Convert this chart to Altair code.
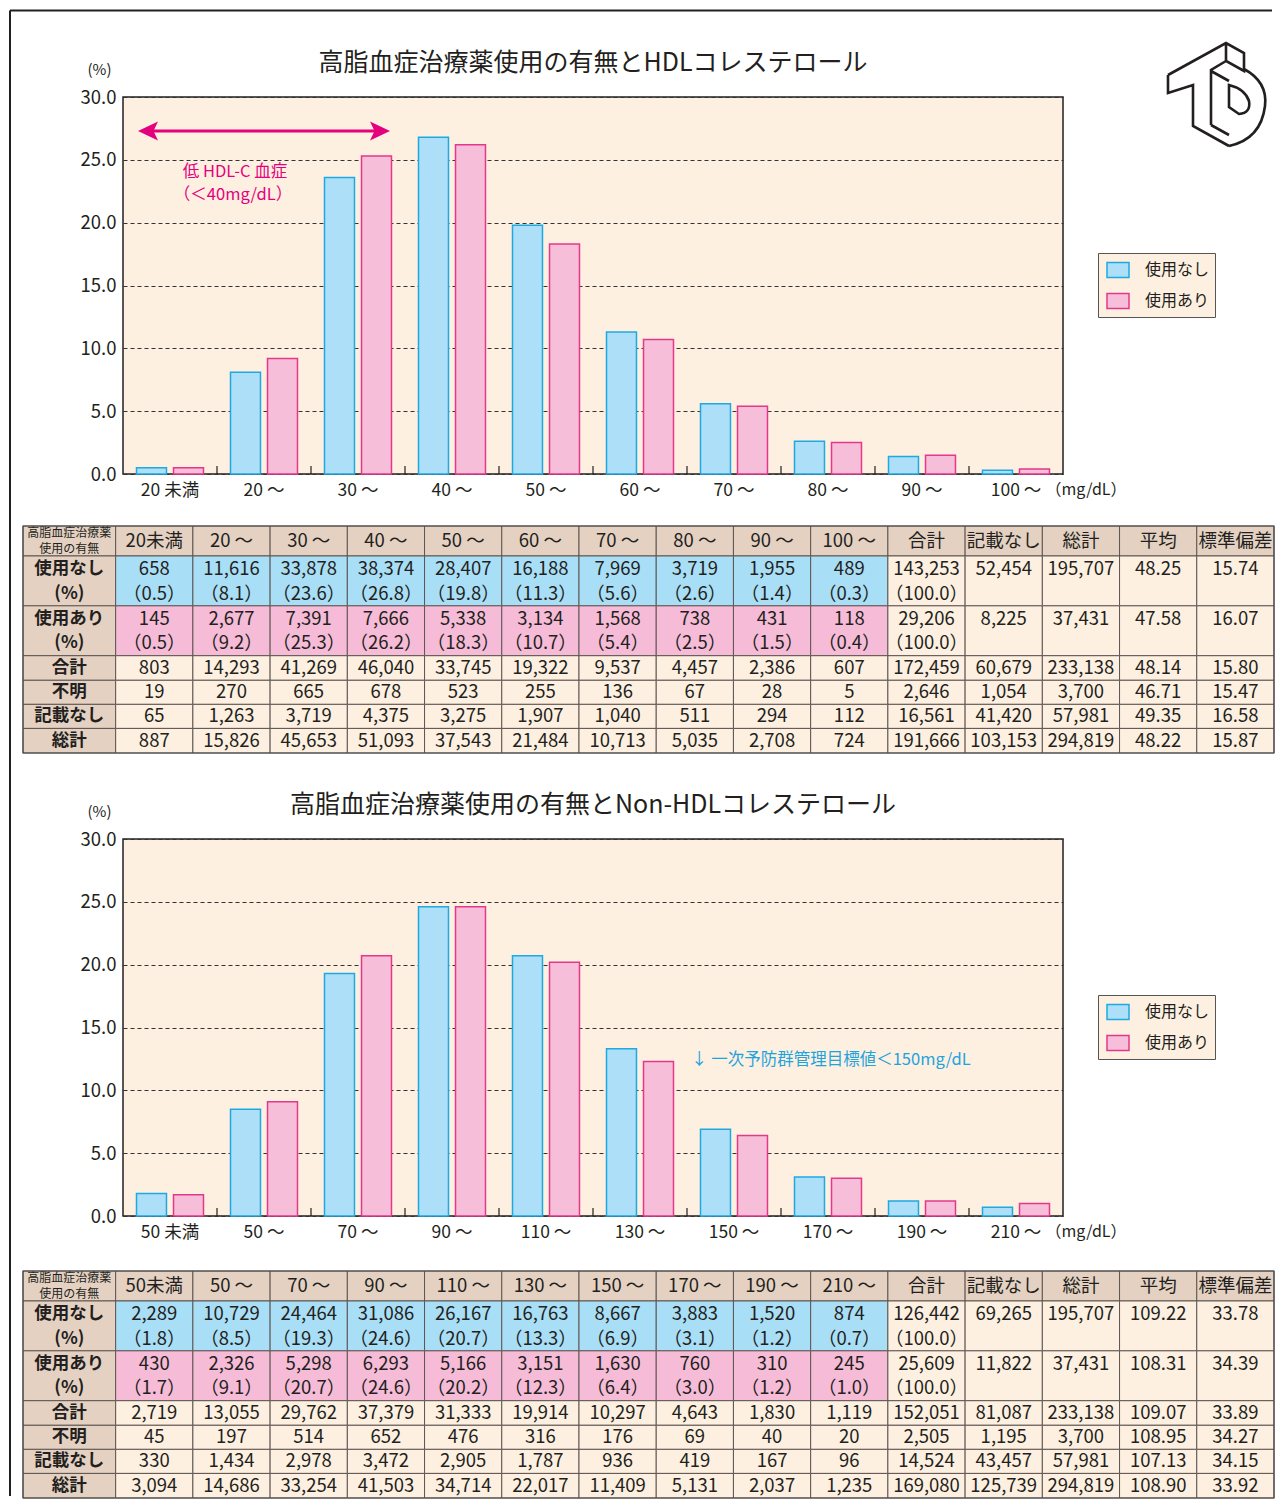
import altair as alt
import pandas as pd

FONT = "Noto Sans CJK JP"
INK = "#231f20"
PLOT_BG = "#fdf0e1"
TAN = "#e4d1c2"
CELL_BLUE = "#a9def7"
CELL_PINK = "#f6bcd7"
LINE_GRAY = "#5e5652"
BAR_FILL = ["#addff8", "#f6bed8"]
BAR_LINE = ["#1fa9e1", "#e4388c"]
ARROW_PINK = "#e5007d"
NOTE_BLUE = "#1fa3dc"
GROUPS = ["使用なし", "使用あり"]

# ---------------- HDL ----------------
HDL_TITLE = "高脂血症治療薬使用の有無とHDLコレステロール"
HDL_CATS = ["20 未満", "20 ～", "30 ～", "40 ～", "50 ～", "60 ～", "70 ～", "80 ～", "90 ～", "100 ～"]
HDL_NONE_PCT = [0.5, 8.1, 23.6, 26.8, 19.8, 11.3, 5.6, 2.6, 1.4, 0.3]
HDL_USE_PCT = [0.5, 9.2, 25.3, 26.2, 18.3, 10.7, 5.4, 2.5, 1.5, 0.4]
HDL_HEAD = ["20未満", "20 ～", "30 ～", "40 ～", "50 ～", "60 ～", "70 ～", "80 ～", "90 ～", "100 ～",
            "合計", "記載なし", "総計", "平均", "標準偏差"]
HDL_NONE_N = ["658", "11,616", "33,878", "38,374", "28,407", "16,188", "7,969", "3,719", "1,955", "489",
              "143,253", "52,454", "195,707", "48.25", "15.74"]
HDL_USE_N = ["145", "2,677", "7,391", "7,666", "5,338", "3,134", "1,568", "738", "431", "118",
             "29,206", "8,225", "37,431", "47.58", "16.07"]
HDL_TOTAL = ["803", "14,293", "41,269", "46,040", "33,745", "19,322", "9,537", "4,457", "2,386", "607",
             "172,459", "60,679", "233,138", "48.14", "15.80"]
HDL_UNKNOWN = ["19", "270", "665", "678", "523", "255", "136", "67", "28", "5",
               "2,646", "1,054", "3,700", "46.71", "15.47"]
HDL_NODATA = ["65", "1,263", "3,719", "4,375", "3,275", "1,907", "1,040", "511", "294", "112",
              "16,561", "41,420", "57,981", "49.35", "16.58"]
HDL_GRAND = ["887", "15,826", "45,653", "51,093", "37,543", "21,484", "10,713", "5,035", "2,708", "724",
             "191,666", "103,153", "294,819", "48.22", "15.87"]

# ---------------- Non-HDL ----------------
NON_TITLE = "高脂血症治療薬使用の有無とNon-HDLコレステロール"
NON_CATS = ["50 未満", "50 ～", "70 ～", "90 ～", "110 ～", "130 ～", "150 ～", "170 ～", "190 ～", "210 ～"]
NON_NONE_PCT = [1.8, 8.5, 19.3, 24.6, 20.7, 13.3, 6.9, 3.1, 1.2, 0.7]
NON_USE_PCT = [1.7, 9.1, 20.7, 24.6, 20.2, 12.3, 6.4, 3.0, 1.2, 1.0]
NON_HEAD = ["50未満", "50 ～", "70 ～", "90 ～", "110 ～", "130 ～", "150 ～", "170 ～", "190 ～", "210 ～",
            "合計", "記載なし", "総計", "平均", "標準偏差"]
NON_NONE_N = ["2,289", "10,729", "24,464", "31,086", "26,167", "16,763", "8,667", "3,883", "1,520", "874",
              "126,442", "69,265", "195,707", "109.22", "33.78"]
NON_USE_N = ["430", "2,326", "5,298", "6,293", "5,166", "3,151", "1,630", "760", "310", "245",
             "25,609", "11,822", "37,431", "108.31", "34.39"]
NON_TOTAL = ["2,719", "13,055", "29,762", "37,379", "31,333", "19,914", "10,297", "4,643", "1,830", "1,119",
             "152,051", "81,087", "233,138", "109.07", "33.89"]
NON_UNKNOWN = ["45", "197", "514", "652", "476", "316", "176", "69", "40", "20",
               "2,505", "1,195", "3,700", "108.95", "34.27"]
NON_NODATA = ["330", "1,434", "2,978", "3,472", "2,905", "1,787", "936", "419", "167", "96",
              "14,524", "43,457", "57,981", "107.13", "34.15"]
NON_GRAND = ["3,094", "14,686", "33,254", "41,503", "34,714", "22,017", "11,409", "5,131", "2,037", "1,235",
             "169,080", "125,739", "294,819", "108.90", "33.92"]

TOTAL_PCT = 100.0
CORNER = ["高脂血症治療薬", "使用の有無"]
ROW_LABELS = [["使用なし", "(%)"], ["使用あり", "(%)"], ["合計"], ["不明"], ["記載なし"], ["総計"]]

HDL_NOTE = ["低 HDL-C 血症", "（＜40mg/dL）"]
NON_NOTE = "↓ 一次予防群管理目標値＜150mg/dL"

RECT_SYMBOL = "M-1,-0.68L1,-0.68L1,0.68L-1,0.68Z"
LOGO = ("M-48,-21L10,-53L28,-43L28,-25L10,-35L10,-53 M10,-35L-5,-26L-5,29 "
        "M-48,-21L-48,-3L-23,-11L-23,30L13,50 M28,-27Q52,-14 49,10Q45,43 13,50 "
        "M13,-11L13,11L23,18Q35,17 33,5Q29,-7 13,-11Z M-5,-25L13,-15 M-5,29L13,39")

W, H = 940, 377
TABLE_RIGHT = 1151
TABLE_H = 227
GAP = 52
ONE = alt.Data(values=[{"k": 1}])


def bar_panel(cats, none_pct, use_pct, title, extra):
    df = pd.DataFrame({
        "cat": cats + cats,
        "grp": [GROUPS[0]] * len(cats) + [GROUPS[1]] * len(cats),
        "pct": none_pct + use_pct,
    })
    xs = alt.Scale(domain=cats, paddingInner=0, paddingOuter=0)
    leg = alt.Legend(title=None, orient="none", legendX=975, legendY=156, direction="vertical",
                     fillColor=PLOT_BG, strokeColor="#555555", padding=5, symbolOffset=3,
                     symbolType=RECT_SYMBOL, symbolSize=484, symbolStrokeWidth=1.5,
                     labelFontSize=16, labelOffset=15, rowPadding=8, labelColor=INK, labelFont=FONT)
    bars = alt.Chart(df).mark_bar(strokeWidth=1.5).encode(
        x=alt.X("cat:N", sort=cats, scale=xs,
                axis=alt.Axis(title="（mg/dL）", titleX=922, titleY=7, titleAlign="left",
                              titleBaseline="top", titleFontSize=16, titleFontWeight="normal",
                              titleColor=INK, labelAngle=0, labelFontSize=17.5, labelPadding=7,
                              labelColor=INK, ticks=False, domain=False, grid=False)),
        xOffset=alt.XOffset("grp:N", sort=GROUPS,
                            scale=alt.Scale(domain=GROUPS, paddingInner=0.19, paddingOuter=0.365)),
        y=alt.Y("pct:Q", scale=alt.Scale(domain=[0, 30], nice=False),
                axis=alt.Axis(title="(%)", titleAngle=0, titleX=-24, titleY=-28, titleAlign="center",
                              titleBaseline="middle", titleFontSize=15, titleFontWeight="normal",
                              titleColor=INK, values=[0, 5, 10, 15, 20, 25, 30], format=".1f",
                              labelFontSize=18.5, labelPadding=7, labelColor=INK, ticks=False,
                              domain=False, grid=True, gridDash=[4, 3], gridColor="#333333",
                              gridWidth=1)),
        fill=alt.Fill("grp:N", sort=GROUPS, scale=alt.Scale(domain=GROUPS, range=BAR_FILL), legend=leg),
        stroke=alt.Stroke("grp:N", sort=GROUPS, scale=alt.Scale(domain=GROUPS, range=BAR_LINE), legend=leg),
    )
    ticks = alt.Chart(pd.DataFrame({"cat": cats[1:]})).mark_rule(color=INK, strokeWidth=1.2).encode(
        x=alt.X("cat:N", sort=cats, scale=xs, bandPosition=0),
        y=alt.value(H), y2=alt.value(H - 8))
    title_mark = alt.Chart(ONE).mark_text(text=title, fontSize=25, color=INK, align="center",
                                          baseline="middle").encode(x=alt.value(W / 2), y=alt.value(-34))
    layers = [bars, ticks, title_mark] + extra
    return alt.layer(*layers).properties(
        width=W, height=H,
        view=alt.ViewBackground(fill=PLOT_BG, stroke=INK, strokeWidth=1.5))


ROW_H = [1.22, 2.03, 2.03, 1.0, 0.98, 0.98, 1.0]
LABEL_W = 1.2
NCOL = 15


def fmt_pct(v):
    return f"（{v:.1f}）"


def table_panel(head, none_n, none_pct, use_n, use_pct, tot, unk, nod, grand, top, view_h):
    tops = [sum(ROW_H[:i]) for i in range(len(ROW_H))]
    total_h = sum(ROW_H)
    cells, texts = [], []
    for r in range(len(ROW_H)):
        for c in range(-1, NCOL):
            if r == 0 or c == -1:
                fill = TAN
            elif r == 1 and c < 10:
                fill = CELL_BLUE
            elif r == 2 and c < 10:
                fill = CELL_PINK
            else:
                fill = PLOT_BG
            cells.append({"x1": -LABEL_W if c == -1 else c, "x2": 0 if c == -1 else c + 1,
                          "y1": tops[r], "y2": tops[r] + ROW_H[r], "fill": fill})
    texts.append({"t": CORNER[0], "x": -LABEL_W / 2, "y": 0.28, "kind": "corner"})
    texts.append({"t": CORNER[1], "x": -LABEL_W / 2, "y": 0.95, "kind": "corner"})
    for c, h in enumerate(head):
        texts.append({"t": h, "x": c + 0.5, "y": ROW_H[0] / 2, "kind": "head"})
    for i, lab in enumerate(ROW_LABELS):
        r = i + 1
        if len(lab) == 2:
            texts.append({"t": lab[0], "x": -LABEL_W / 2, "y": tops[r] + 0.53, "kind": "label"})
            texts.append({"t": lab[1], "x": -LABEL_W / 2, "y": tops[r] + 1.53, "kind": "label"})
        else:
            texts.append({"t": lab[0], "x": -LABEL_W / 2, "y": tops[r] + ROW_H[r] / 2, "kind": "label"})
    for r, counts, pcts in [(1, none_n, none_pct), (2, use_n, use_pct)]:
        for c in range(NCOL):
            texts.append({"t": counts[c], "x": c + 0.5, "y": tops[r] + 0.53, "kind": "val"})
        for c, v in enumerate(pcts):
            texts.append({"t": fmt_pct(v), "x": c + 0.5, "y": tops[r] + 1.53, "kind": "val"})
        texts.append({"t": fmt_pct(TOTAL_PCT), "x": 10.5, "y": tops[r] + 1.53, "kind": "val"})
    for r, vals in [(3, tot), (4, unk), (5, nod), (6, grand)]:
        for c in range(NCOL):
            texts.append({"t": vals[c], "x": c + 0.5, "y": tops[r] + ROW_H[r] / 2, "kind": "val"})

    xs = alt.Scale(domain=[-LABEL_W, NCOL], range=[-100, TABLE_RIGHT], nice=False, zero=False)
    ys = alt.Scale(domain=[0, total_h], range=[top, top + TABLE_H], nice=False, zero=False)
    rects = alt.Chart(pd.DataFrame(cells)).mark_rect(stroke=LINE_GRAY, strokeWidth=1).encode(
        x=alt.X("x1:Q", scale=xs, axis=None), x2="x2:Q",
        y=alt.Y("y1:Q", scale=ys, axis=None), y2="y2:Q",
        fill=alt.Fill("fill:N", scale=None))
    tdf = pd.DataFrame(texts)
    styles = {"corner": (12, "normal"), "head": (18.5, "normal"), "label": (17.5, "bold"),
              "val": (18.5, "normal")}
    layers = [rects]
    for kind, (fs, fw) in styles.items():
        layers.append(alt.Chart(tdf).transform_filter(alt.datum.kind == kind).mark_text(
            fontSize=fs, fontWeight=fw, color=INK, align="center", baseline="middle").encode(
            x=alt.X("x:Q", scale=xs, axis=None), y=alt.Y("y:Q", scale=ys, axis=None), text="t:N"))
    outline = alt.Chart(ONE).mark_rect(fillOpacity=0, stroke="#4a4a4a", strokeWidth=1.2).encode(
        x=alt.value(-100), x2=alt.value(TABLE_RIGHT), y=alt.value(top), y2=alt.value(top + TABLE_H))
    layers.append(outline)
    return alt.layer(*layers).properties(width=TABLE_RIGHT, height=view_h)


arrow_line = alt.Chart(ONE).mark_rule(color=ARROW_PINK, strokeWidth=3).encode(
    x=alt.value(22), x2=alt.value(260), y=alt.value(34))
arrow_l = alt.Chart(ONE).mark_point(shape="M-1,0L1,-0.95L0.55,0L1,0.95Z", size=400, filled=True,
                                    color=ARROW_PINK, opacity=1).encode(x=alt.value(25), y=alt.value(34))
arrow_r = alt.Chart(ONE).mark_point(shape="M1,0L-1,-0.95L-0.55,0L-1,0.95Z", size=400, filled=True,
                                    color=ARROW_PINK, opacity=1).encode(x=alt.value(257), y=alt.value(34))
note1 = alt.Chart(ONE).mark_text(text=HDL_NOTE[0], fontSize=16.5, color=ARROW_PINK, align="center",
                                 baseline="middle").encode(x=alt.value(112), y=alt.value(75))
note2 = alt.Chart(ONE).mark_text(text=HDL_NOTE[1], fontSize=16.5, color=ARROW_PINK, align="center",
                                 baseline="middle").encode(x=alt.value(110), y=alt.value(98))
top_line = alt.Chart(ONE).mark_rule(color=INK, strokeWidth=2).encode(
    x=alt.value(-113), x2=alt.value(TABLE_RIGHT - 2), y=alt.value(-86.5))
left_line = alt.Chart(ONE).mark_rule(color=INK, strokeWidth=2).encode(
    x=alt.value(-113), y=alt.value(-86.5), y2=alt.value(1399))
logo = alt.Chart(ONE).mark_point(shape=LOGO, size=4, filled=False, stroke=INK, strokeWidth=2.6,
                                 opacity=1).encode(x=alt.value(1093), y=alt.value(-1))
note3 = alt.Chart(ONE).mark_text(text=NON_NOTE, fontSize=16.5, color=NOTE_BLUE, align="left",
                                 baseline="middle").encode(x=alt.value(568), y=alt.value(221))

c1 = bar_panel(HDL_CATS, HDL_NONE_PCT, HDL_USE_PCT, HDL_TITLE,
               [arrow_line, arrow_l, arrow_r, note1, note2, top_line, left_line, logo])
t1 = table_panel(HDL_HEAD, HDL_NONE_N, HDL_NONE_PCT, HDL_USE_N, HDL_USE_PCT,
                 HDL_TOTAL, HDL_UNKNOWN, HDL_NODATA, HDL_GRAND, 0, 261)
c2 = bar_panel(NON_CATS, NON_NONE_PCT, NON_USE_PCT, NON_TITLE, [note3])
t2 = table_panel(NON_HEAD, NON_NONE_N, NON_NONE_PCT, NON_USE_N, NON_USE_PCT,
                 NON_TOTAL, NON_UNKNOWN, NON_NODATA, NON_GRAND, 3, 230)

chart = alt.vconcat(c1, t1, c2, t2, spacing=GAP, padding=0, bounds="flush").resolve_scale(
    x="independent", y="independent", fill="independent", stroke="independent"
).configure(font=FONT).configure_view(stroke="transparent")

chart.save("out.html", embed_options={"renderer": "svg", "actions": False})
